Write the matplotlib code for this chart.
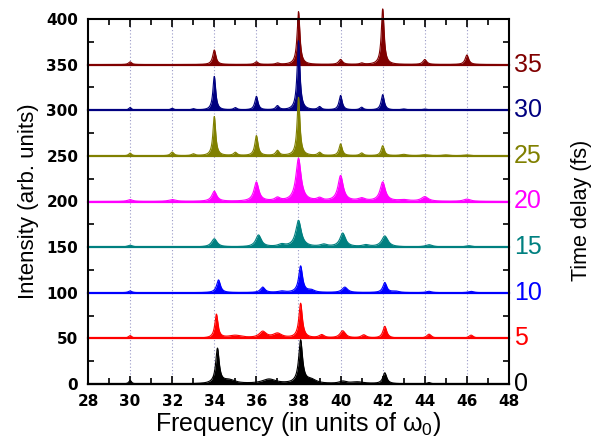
import numpy as np
import matplotlib
matplotlib.use("Agg")
import matplotlib.pyplot as plt
from matplotlib.ticker import MultipleLocator
import matplotlib.transforms as mtransforms

plt.rcParams["mathtext.fontset"] = "custom"
plt.rcParams["mathtext.rm"] = "Liberation Sans"
plt.rcParams["mathtext.it"] = "Liberation Sans"

# ---- data ----
delays = [0, 5, 10, 15, 20, 25, 30, 35]            # fs
offsets = [0, 50, 100, 150, 200, 250, 300, 350]     # vertical offset of each trace
colors = ["#000000", "#ff0000", "#0000ff", "#008080",
          "#ff00ff", "#808000", "#000080", "#800000"]

# peaks per trace: centers (units of w0), heights (arb. units), half widths
centers_0 = [30.0, 34.15, 34.7, 36.6, 38.1, 38.6, 40.1, 40.8, 42.1, 44.2]
heights_0 = [4, 38, 4, 5, 47, 4, 2.5, 2, 12, 1.5]
widths_0 = [0.07, 0.1, 0.35, 0.4, 0.11, 0.3, 0.2, 0.4, 0.11, 0.1]

centers_5 = [30.0, 34.1, 35.0, 36.3, 37.0, 38.1, 39.1, 40.1, 41.1, 42.1, 44.2, 46.2]
heights_5 = [3, 26, 3, 7, 5, 38, 3.5, 8, 3.5, 13, 4.5, 3.5]
widths_5 = [0.1, 0.09, 0.4, 0.2, 0.25, 0.1, 0.15, 0.16, 0.15, 0.11, 0.13, 0.13]

centers_10 = [30.0, 34.2, 36.3, 37.2, 38.1, 38.6, 40.2, 42.1, 42.6, 44.2, 46.2]
heights_10 = [2, 14, 6, 1.5, 29, 2.5, 6, 11, 1.5, 1.5, 1.5]
widths_10 = [0.1, 0.11, 0.13, 0.2, 0.11, 0.2, 0.16, 0.11, 0.2, 0.15, 0.15]

centers_15 = [30.0, 34.0, 36.1, 37.2, 38.0, 39.2, 40.1, 41.2, 42.1, 44.2, 46.1]
heights_15 = [2, 9, 13, 2.5, 29, 2.5, 15, 2, 12, 2.5, 1.5]
widths_15 = [0.15, 0.16, 0.16, 0.2, 0.16, 0.2, 0.16, 0.2, 0.18, 0.2, 0.2]

centers_20 = [30.0, 32.0, 34.0, 36.0, 37.0, 38.0, 39.0, 40.0, 41.0, 42.0, 43.0, 44.0, 46.0]
heights_20 = [2, 2, 11, 21, 3.5, 47, 3, 28, 3, 21, 1.5, 5, 2.5]
widths_20 = [0.15, 0.2, 0.14, 0.14, 0.15, 0.15, 0.15, 0.15, 0.2, 0.15, 0.3, 0.2, 0.2]

centers_25 = [30.0, 32.0, 33.0, 34.0, 35.0, 36.0, 37.0, 38.0, 39.0, 40.0, 41.0, 42.0, 43.0, 44.0, 45.0, 46.0]
heights_25 = [3, 4, 2, 43, 3.5, 22, 5.5, 64, 3.5, 13, 3, 11, 1.5, 1.2, 1, 1]
widths_25 = [0.08, 0.1, 0.1, 0.08, 0.1, 0.09, 0.1, 0.08, 0.1, 0.09, 0.1, 0.09, 0.2, 0.2, 0.2, 0.2]

centers_30 = [30.0, 32.0, 33.0, 34.0, 35.0, 36.0, 37.0, 38.0, 39.0, 40.0, 41.0, 42.0, 43.0, 44.0]
heights_30 = [3, 2, 1.5, 37, 2.5, 15, 4.5, 76, 3.5, 16, 3, 17, 1.2, 1.2]
widths_30 = [0.08, 0.1, 0.1, 0.08, 0.1, 0.09, 0.1, 0.08, 0.1, 0.09, 0.1, 0.09, 0.15, 0.15]

centers_35 = [30.0, 34.0, 36.0, 37.0, 38.0, 40.0, 41.0, 42.0, 44.0, 46.0]
heights_35 = [3, 16, 3, 1.5, 58, 5.5, 1.5, 61, 5.5, 10.5]
widths_35 = [0.09, 0.09, 0.1, 0.1, 0.08, 0.11, 0.1, 0.08, 0.11, 0.1]

centers = [centers_0, centers_5, centers_10, centers_15, centers_20, centers_25, centers_30, centers_35]
heights = [heights_0, heights_5, heights_10, heights_15, heights_20, heights_25, heights_30, heights_35]
widths = [widths_0, widths_5, widths_10, widths_15, widths_20, widths_25, widths_30, widths_35]

xticks = [28, 30, 32, 34, 36, 38, 40, 42, 44, 46, 48]
yticks = [0, 50, 100, 150, 200, 250, 300, 350, 400]

# ---- figure ----
fig = plt.figure(figsize=(6.02, 4.37), dpi=100)
ax = fig.add_axes([88/602, 1-384/437, (509-88)/602, (384-19)/437])

freq = np.linspace(28, 48, 4001)
for i in range(len(delays)):
    spec = np.zeros_like(freq)
    for c, h, w in zip(centers[i], heights[i], widths[i]):
        spec += h * w**2 / ((freq - c)**2 + w**2)
    base = offsets[i]
    z = 10 - i
    ax.fill_between(freq, base, base + spec, color=colors[i], lw=0, zorder=z, clip_on=False)
    ax.plot(freq, base + spec, color=colors[i], lw=0.8, zorder=z, clip_on=False)
    ax.plot([28, 48], [base, base], color=colors[i], lw=1.6, zorder=z, clip_on=False)
    ax.text(1.012, base, str(delays[i]), color=colors[i],
            transform=mtransforms.blended_transform_factory(ax.transAxes, ax.transData),
            ha="left", va="center", fontsize=18, family="Liberation Sans")

for xg in xticks[1:-1]:
    ax.axvline(xg, color="#9a9ac8", lw=0.8, ls=(0, (1, 2)), zorder=1)

ax.set_xlim(28, 48)
ax.set_ylim(0, 400)
ax.set_xticks(xticks)
ax.set_yticks(yticks)
ax.xaxis.set_minor_locator(MultipleLocator(1))
ax.yaxis.set_minor_locator(MultipleLocator(25))
ax.tick_params(which="both", direction="in", top=True, right=True, width=1.2)
ax.tick_params(which="major", length=6, labelsize=11, pad=7)
ax.tick_params(which="minor", length=4)
for lab in ax.get_xticklabels() + ax.get_yticklabels():
    lab.set_fontweight("bold")
for sp in ax.spines.values():
    sp.set_linewidth(1.5)
    sp.set_zorder(20)

ax.set_xlabel(r"Frequency (in units of $\omega_0$)", fontsize=18, family="Liberation Sans", labelpad=1)
ax.set_ylabel("Intensity (arb. units)", fontsize=16, family="Liberation Sans", labelpad=5)
fig.text(582/602, 1-210/437, "Time delay (fs)", rotation=90, ha="center", va="center",
         fontsize=15.5, family="Liberation Sans")

fig.savefig("out.png", dpi=100)
